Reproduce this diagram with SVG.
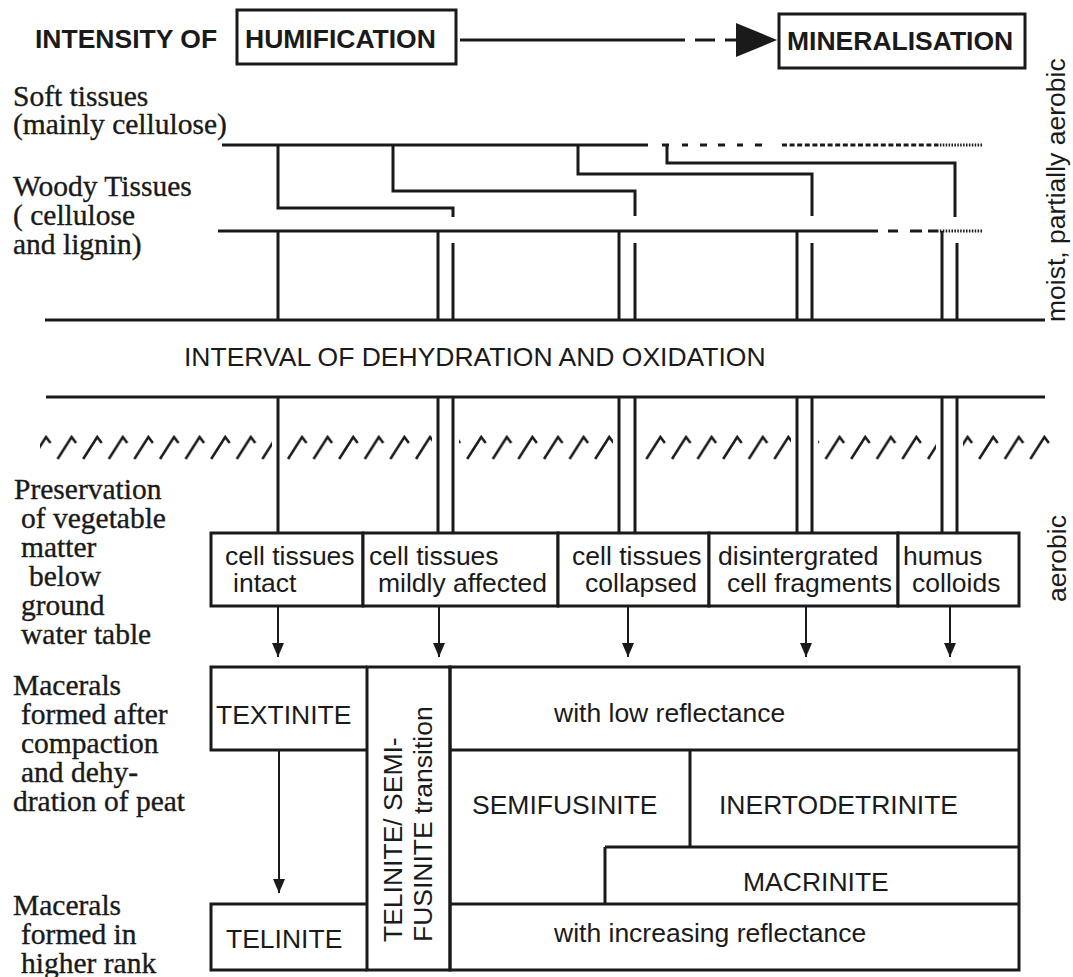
<svg xmlns="http://www.w3.org/2000/svg" width="1073" height="977" viewBox="0 0 1073 977">
<defs>
<style>
.sans{font-family:"Liberation Sans",Arial,sans-serif;font-size:26.5px;fill:#1a1a1a}
.b{font-weight:bold}
.serif{font-family:"Liberation Serif","Times New Roman",serif;font-size:29.5px;fill:#1a1a1a;stroke:#1a1a1a;stroke-width:0.35}
.ln{stroke:#1a1a1a;fill:none;stroke-width:3}
.thin{stroke:#1a1a1a;fill:none;stroke-width:2}
.box{stroke:#1a1a1a;fill:#fff;stroke-width:3}
</style>
<marker id="ah" markerUnits="userSpaceOnUse" markerWidth="14" markerHeight="12" refX="14" refY="6" orient="auto">
<path d="M0,0 L14,6 L0,12 z" fill="#1a1a1a"/>
</marker>
<pattern id="hatch" patternUnits="userSpaceOnUse" x="26" y="434" width="25.6" height="30">
<path d="M6,25 L20,3 L24.5,9" stroke="#1a1a1a" stroke-width="2.5" fill="none" stroke-linejoin="miter"/>
</pattern>
</defs>
<rect width="1073" height="977" fill="#fff"/>

<g id="title">
<text class="sans b" x="35" y="48">INTENSITY OF</text>
</g>
<g id="humification">
<rect class="box" x="237" y="10" width="219" height="54"/>
<text class="sans b" x="245" y="48">HUMIFICATION</text>
</g>
<g id="mineralisation">
<rect class="box" x="779" y="14" width="246" height="54"/>
<text class="sans b" x="787" y="50">MINERALISATION</text>
</g>

<g id="labels">
<text class="serif" x="13" y="106">Soft tissues</text>
<text class="serif" x="13" y="134">(mainly cellulose)</text>
<text class="serif" x="13" y="196">Woody Tissues</text>
<text class="serif" x="13" y="225">( cellulose</text>
<text class="serif" x="13" y="254">and lignin)</text>
<text class="serif" x="14" y="499">Preservation</text>
<text class="serif" x="21" y="528">of vegetable</text>
<text class="serif" x="21" y="557">matter</text>
<text class="serif" x="29" y="586">below</text>
<text class="serif" x="21" y="615">ground</text>
<text class="serif" x="21" y="644">water table</text>
<text class="serif" x="13" y="695">Macerals</text>
<text class="serif" x="21" y="724">formed after</text>
<text class="serif" x="21" y="753">compaction</text>
<text class="serif" x="21" y="782">and dehy-</text>
<text class="serif" x="13" y="811">dration of peat</text>
<text class="serif" x="13" y="915">Macerals</text>
<text class="serif" x="21" y="944">formed in</text>
<text class="serif" x="21" y="973">higher rank</text>
<text class="sans" x="184" y="366">INTERVAL OF DEHYDRATION AND OXIDATION</text>
<text class="sans" font-size="25" transform="translate(1065,322) rotate(-90)">moist, partially aerobic</text>
<text class="sans" font-size="25" transform="translate(1066,602) rotate(-90)">aerobic</text>
</g>

<g id="connectors">
<path class="ln" stroke-width="4" d="M460,40 H685 M695,40 H715 M725,40 H736"/>
<polygon points="736,23 777,40 736,57" fill="#1a1a1a"/>
<path class="ln" stroke-width="4" d="M222,145 H648"/>
<path class="ln" stroke-width="5" d="M662,145 H669 M682,145 H688 M700,145 H707 M718,145 H725 M737,145 H743 M755,145 H762"/>
<path class="ln" stroke-width="5" stroke-dasharray="5 2.6" d="M782,145 H937"/>
<path class="ln" stroke-width="5" stroke-dasharray="1.5 1.4" d="M937,145 H982"/>
<path class="ln" d="M278,145 V208 H453 V217"/>
<path class="ln" d="M393,145 V191 H635 V216"/>
<path class="ln" d="M578,145 V174 H812 V216"/>
<path class="ln" d="M667,145 V163 H955 V217"/>
<path class="ln" stroke-width="5.5" d="M218,231 H878 M888,231 H898 M910,231 H922 M928,231 H937"/>
<path class="ln" stroke-width="5" stroke-dasharray="1.5 1.4" d="M937,231 H983"/>
<path class="ln" d="M278,231 V320 M438,231 V320 M453,243 V320 M619,231 V320 M635,243 V320 M797,231 V320 M812,243 V320 M942,231 V320 M957,243 V320"/>
<path class="ln" d="M45,320 H1045"/>
<path class="ln" d="M46,397 H1045"/>
<path class="ln" d="M278,397 V533 M438,397 V533 M453,397 V533 M619,397 V533 M635,397 V533 M797,397 V533 M812,397 V533 M942,397 V533 M957,397 V533"/>
<rect x="40" y="434" width="232" height="30" fill="url(#hatch)"/>
<rect x="284" y="434" width="148" height="30" fill="url(#hatch)"/>
<rect x="459" y="434" width="154" height="30" fill="url(#hatch)"/>
<rect x="641" y="434" width="150" height="30" fill="url(#hatch)"/>
<rect x="818" y="434" width="118" height="30" fill="url(#hatch)"/>
<rect x="963" y="434" width="90" height="30" fill="url(#hatch)"/>
<path class="thin" marker-end="url(#ah)" d="M278,606 V657"/>
<path class="thin" marker-end="url(#ah)" d="M439,606 V657"/>
<path class="thin" marker-end="url(#ah)" d="M628,606 V657"/>
<path class="thin" marker-end="url(#ah)" d="M806,606 V657"/>
<path class="thin" marker-end="url(#ah)" d="M950,606 V657"/>
<path class="thin" marker-end="url(#ah)" d="M279,750 V893"/>
</g>

<g id="n-intact">
<rect class="box" x="211" y="533" width="152" height="73"/>
<text class="sans" x="225" y="565">cell tissues</text>
<text class="sans" x="233" y="592">intact</text>
</g>
<g id="n-mild">
<rect class="box" x="363" y="533" width="195" height="73"/>
<text class="sans" x="369" y="565">cell tissues</text>
<text class="sans" x="378" y="592">mildly affected</text>
</g>
<g id="n-collapsed">
<rect class="box" x="558" y="533" width="151" height="73"/>
<text class="sans" x="572" y="565">cell tissues</text>
<text class="sans" x="585" y="592">collapsed</text>
</g>
<g id="n-disint">
<rect class="box" x="709" y="533" width="189" height="73"/>
<text class="sans" x="718" y="565">disintergrated</text>
<text class="sans" x="727" y="592">cell fragments</text>
</g>
<g id="n-humus">
<rect class="box" x="898" y="533" width="121" height="73"/>
<text class="sans" x="903" y="565">humus</text>
<text class="sans" x="912" y="592">colloids</text>
</g>

<g id="n-textinite">
<path class="ln" d="M367,667 H211 V750 H367"/>
<text class="sans" x="216" y="724">TEXTINITE</text>
</g>
<g id="n-telinite">
<path class="ln" d="M367,904 H211 V970 H367"/>
<text class="sans" x="226" y="948">TELINITE</text>
</g>
<g id="n-transition">
<rect class="ln" x="367" y="667" width="83" height="303"/>
<text class="sans" transform="translate(402,942) rotate(-90)">TELINITE/ SEMI-</text>
<text class="sans" transform="translate(432,942) rotate(-90)">FUSINITE transition</text>
</g>
<g id="n-right">
<rect class="ln" x="450" y="667" width="569" height="303"/>
<path class="ln" d="M450,750 H1019 M690,750 V847 M605,847 H1019 M605,847 V904 M450,904 H1019"/>
<text class="sans" x="554" y="722">with low reflectance</text>
<text class="sans" x="472" y="814">SEMIFUSINITE</text>
<text class="sans" x="719" y="814">INERTODETRINITE</text>
<text class="sans" x="743" y="891">MACRINITE</text>
<text class="sans" x="554" y="942">with increasing reflectance</text>
</g>
</svg>
